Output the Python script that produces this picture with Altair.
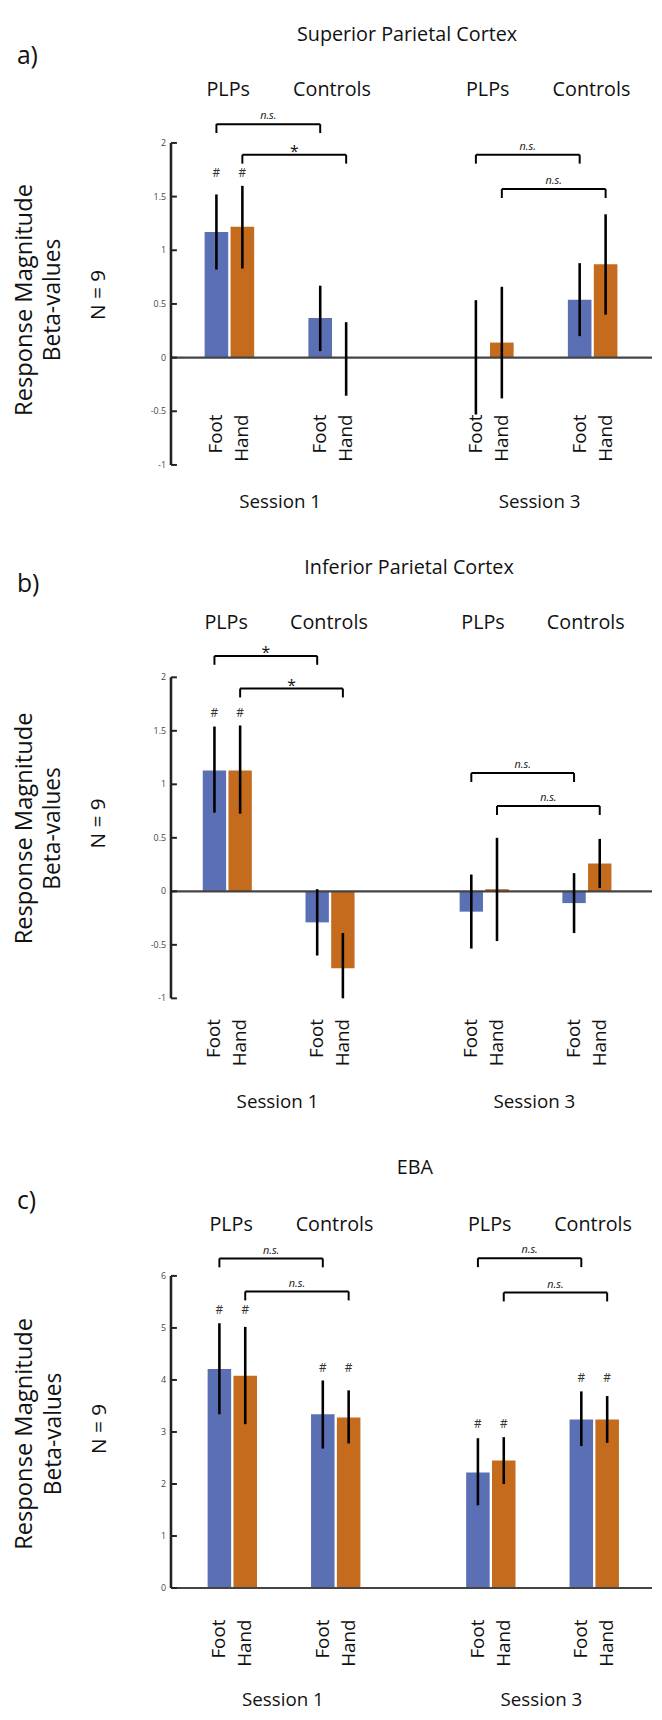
import altair as alt
import pandas as pd

# ---------------- data ----------------
sessions = ["Session 1", "Session 3"]
groups = ["PLPs", "Controls"]
limbs = ["Foot", "Hand"]

# bar order: S1 PLPs Foot, S1 PLPs Hand, S1 Controls Foot, S1 Controls Hand,
#            S3 PLPs Foot, S3 PLPs Hand, S3 Controls Foot, S3 Controls Hand
spc_mean = [1.17, 1.22, 0.37, 0.005, 0.005, 0.14, 0.54, 0.87]
spc_low = [0.82, 0.83, 0.06, -0.355, -0.53, -0.38, 0.20, 0.40]
spc_high = [1.52, 1.60, 0.67, 0.33, 0.535, 0.66, 0.88, 1.335]
spc_hash = [1, 1, 0, 0, 0, 0, 0, 0]
spc_brackets = [(0, 2, 2.175, "n.s."), (1, 3, 1.89, "*"), (4, 6, 1.89, "n.s."), (5, 7, 1.57, "n.s.")]

ipc_mean = [1.13, 1.13, -0.29, -0.72, -0.19, 0.02, -0.11, 0.26]
ipc_low = [0.735, 0.726, -0.60, -1.0, -0.535, -0.465, -0.39, 0.03]
ipc_high = [1.54, 1.55, 0.02, -0.39, 0.157, 0.50, 0.17, 0.49]
ipc_hash = [1, 1, 0, 0, 0, 0, 0, 0]
ipc_brackets = [(0, 2, 2.20, "*"), (1, 3, 1.895, "*"), (4, 6, 1.105, "n.s."), (5, 7, 0.797, "n.s.")]

eba_mean = [4.21, 4.08, 3.34, 3.28, 2.22, 2.45, 3.24, 3.24]
eba_low = [3.34, 3.15, 2.68, 2.78, 1.59, 2.00, 2.73, 2.79]
eba_high = [5.09, 5.02, 3.99, 3.80, 2.88, 2.90, 3.78, 3.69]
eba_hash = [1, 1, 1, 1, 1, 1, 1, 1]
eba_brackets = [(0, 2, 6.335, "n.s."), (1, 3, 5.70, "n.s."), (4, 6, 6.34, "n.s."), (5, 7, 5.68, "n.s.")]

ticks_parietal = [-1, -0.5, 0, 0.5, 1, 1.5, 2]
ticks_eba = [0, 1, 2, 3, 4, 5, 6]

# ---------------- styling ----------------
BLUE = "#5b6fb4"
ORANGE = "#c46b1e"
FONT = "Open Sans"
TXT = "#111111"
AXC = "#222222"
LEFT = 165          # room left of the y axis
PW = 652 - LEFT     # plot width (axis to right edge)

# slot domain: bars plus empty spacer slots between groups / sessions
gap_before = [0, 2, 4, 2]
DOM = []
BAR_SLOTS = []
BAR_INFO = []
for (s, g), gb in zip([(s, g) for s in sessions for g in groups], gap_before):
    for _ in range(gb):
        DOM.append(f"gap{len(DOM)}")
    for l in limbs:
        BAR_SLOTS.append(len(DOM))
        BAR_INFO.append((s, g, l))
        DOM.append(f"{s}|{g}|{l}")


def panel(title, letter, mean, low, high, hashes, brackets, ydom, yticks, L):
    xr = [L["xr"][0] - LEFT, L["xr"][1] - LEFT]
    xs = alt.Scale(type="band", domain=DOM, range=xr, paddingInner=0.09, paddingOuter=0)
    ys = alt.Scale(domain=ydom, range=L["yr"], nice=False, zero=False)

    rows = []
    for i, (s, g, l) in enumerate(BAR_INFO):
        rows.append(dict(slot=DOM[BAR_SLOTS[i]], session=s, group=g, limb=l,
                         mean=mean[i], low=low[i], high=high[i], hash=hashes[i]))
    df = pd.DataFrame(rows)
    df["pair_top"] = df.groupby(["session", "group"])["high"].transform("max")

    br = []
    brt = []
    for a, b, h, lab in brackets:
        sa, sb = BAR_SLOTS[a], BAR_SLOTS[b]
        br.append(dict(s_from=DOM[sa], s_to=DOM[sb], h=h))
        brt.append(dict(mid=DOM[(sa + sb) // 2], h=h, lab=lab))
    brdf = pd.DataFrame(br)
    brtdf = pd.DataFrame(brt)
    drops = pd.DataFrame([dict(s=r["s_from"], h=r["h"]) for r in br] +
                         [dict(s=r["s_to"], h=r["h"]) for r in br])

    base = alt.Chart(df)
    bars = base.mark_bar().encode(
        x=alt.X("slot:N", scale=xs, axis=None),
        y=alt.Y("mean:Q", scale=ys, axis=None),
        color=alt.Color("limb:N", scale=alt.Scale(domain=limbs, range=[BLUE, ORANGE]), legend=None),
    )
    zero = alt.Chart(pd.DataFrame({"z": [0]})).mark_rule(color="#444444", strokeWidth=2.2).encode(
        y=alt.Y("z:Q", scale=ys, axis=None), x=alt.value(0), x2=alt.value(PW))

    # y axis: line (thin rect), inward ticks and labels, from the tick list through the y scale
    axdf = pd.DataFrame({"lo": [min(yticks)], "hi": [max(yticks)]})
    axis_rect = alt.Chart(axdf).mark_bar(color=AXC).encode(
        x=alt.value(-1.3), x2=alt.value(1.3),
        y=alt.Y("lo:Q", scale=ys, axis=None), y2="hi:Q")
    tickdf = pd.DataFrame({"v": yticks})
    tickmarks = alt.Chart(tickdf).mark_rule(color=AXC, strokeWidth=2).encode(
        y=alt.Y("v:Q", scale=ys, axis=None), x=alt.value(0), x2=alt.value(6))
    labdf = pd.DataFrame({"tv": yticks, "tl": [("%g" % v) for v in yticks]})
    ticklabels = alt.Chart(labdf).mark_text(
        font=FONT, fontSize=9, color="#444444", align="right", baseline="middle").encode(
        y=alt.Y("tv:Q", scale=ys, axis=None), x=alt.value(-5), text="tl:N")

    err = base.mark_rule(color="black", strokeWidth=2.6).encode(
        x=alt.X("slot:N", scale=xs, axis=None, bandPosition=0.5),
        y=alt.Y("low:Q", scale=ys, axis=None), y2="high:Q")
    hashmk = base.transform_filter("datum.hash == 1").mark_text(
        text="#", font=FONT, fontSize=12, color="#333333", baseline="middle", dy=-13).encode(
        x=alt.X("slot:N", scale=xs, axis=None, bandPosition=0.5),
        y=alt.Y("pair_top:Q", scale=ys, axis=None))
    brh = alt.Chart(brdf).mark_rule(color="black", strokeWidth=2).encode(
        x=alt.X("s_from:N", scale=xs, axis=None, bandPosition=0.5),
        x2=alt.X2("s_to:N", bandPosition=0.5),
        y=alt.Y("h:Q", scale=ys, axis=None))
    brv = alt.Chart(drops).mark_rule(color="black", strokeWidth=2, y2Offset=9).encode(
        x=alt.X("s:N", scale=xs, axis=None, bandPosition=0.5),
        y=alt.Y("h:Q", scale=ys, axis=None), y2="h:Q")
    brt_ns = alt.Chart(brtdf).transform_filter("datum.lab != '*'").mark_text(
        font=FONT, fontSize=11, fontStyle="italic", color=TXT, baseline="alphabetic", dy=-5).encode(
        x=alt.X("mid:N", scale=xs, axis=None, bandPosition=0.5),
        y=alt.Y("h:Q", scale=ys, axis=None), text="lab:N")
    brt_st = alt.Chart(brtdf).transform_filter("datum.lab == '*'").mark_text(
        font=FONT, fontSize=16, color=TXT, baseline="alphabetic", dy=2).encode(
        x=alt.X("mid:N", scale=xs, axis=None, bandPosition=0.5),
        y=alt.Y("h:Q", scale=ys, axis=None), text="lab:N")
    xlabels = base.mark_text(font=FONT, fontSize=19, color=TXT, angle=270, align="right",
                             baseline="middle").encode(
        x=alt.X("slot:N", scale=xs, axis=None, bandPosition=0.5),
        y=alt.value(L["lab_y"]), text="limb:N")
    grplab = base.transform_filter("datum.limb == 'Foot'").mark_text(
        font=FONT, fontSize=20, color=TXT, baseline="middle").encode(
        x=alt.X("slot:N", scale=xs, axis=None, bandPosition=1.0),
        y=alt.value(L["grp_y"]), text="group:N")
    sessdf = pd.DataFrame({"session": sessions, "mid": [DOM[2], DOM[12]]})
    sesslab = alt.Chart(sessdf).mark_text(font=FONT, fontSize=19, color=TXT, baseline="middle").encode(
        x=alt.X("mid:N", scale=xs, axis=None, bandPosition=1.0),
        y=alt.value(L["sess_y"]), text="session:N")

    def note(txt, x, y, size, angle=0, align="center"):
        return alt.Chart(pd.DataFrame({"t": [txt]})).mark_text(
            font=FONT, fontSize=size, color=TXT, angle=angle, align=align, baseline="middle").encode(
            x=alt.value(x - LEFT), y=alt.value(y), text="t:N")

    notes = [
        note(title, L["title_x"], L["title_y"], 20),
        note(letter, 9, L["letter_y"], 25, align="left"),
        note("Response Magnitude", L["rm_x"], L["rm_y"], 24, angle=270),
        note("Beta-values", L["bv_x"], L["rm_y"], 23, angle=270),
        note("N = 9", L["n_x"], L["n_y"], 21, angle=270),
    ]
    # invisible anchor so every panel reserves the same room left of the axis
    anchor = alt.Chart(pd.DataFrame({"t": [0]})).mark_rule(strokeOpacity=0).encode(
        x=alt.value(-LEFT), x2=alt.value(-LEFT + 1), y=alt.value(L["rm_y"]))

    return alt.layer(ticklabels, bars, zero, err, hashmk, brh, brv,
                     brt_ns, brt_st, xlabels, grplab, sesslab, anchor, *notes,
                     axis_rect, tickmarks
                     ).properties(width=PW, height=L["H"])


LA = dict(H=532, yr=[452, 126], xr=[199.05, 616.97], title_x=404, title_y=17,
          letter_y=38, grp_y=72, lab_y=401, sess_y=490, rm_y=285, n_y=280, rm_x=17, bv_x=46, n_x=92)
LB = dict(H=600, yr=[460, 135], xr=[197.17, 610.9], title_x=406, title_y=24,
          letter_y=41, grp_y=80, lab_y=481, sess_y=565, rm_y=288, n_y=283, rm_x=17, bv_x=46, n_x=92)
LC = dict(H=572, yr=[457, 141], xr=[202.1, 618.5], title_x=412, title_y=32,
          letter_y=65, grp_y=90, lab_y=489, sess_y=570, rm_y=301, n_y=296, rm_x=17, bv_x=47, n_x=93)

pa = panel("Superior Parietal Cortex", "a)", spc_mean, spc_low, spc_high, spc_hash, spc_brackets,
           [-1, 2], ticks_parietal, LA)
pb = panel("Inferior Parietal Cortex", "b)", ipc_mean, ipc_low, ipc_high, ipc_hash, ipc_brackets,
           [-1, 2], ticks_parietal, LB)
pc = panel("EBA", "c)", eba_mean, eba_low, eba_high, eba_hash, eba_brackets,
           [0, 6], ticks_eba, LC)

chart = alt.vconcat(pa, pb, pc, spacing=0, bounds="flush").properties(
    padding=0, background="white").configure_view(stroke=None)

chart.save("out.html", embed_options={"renderer": "svg", "actions": False})
